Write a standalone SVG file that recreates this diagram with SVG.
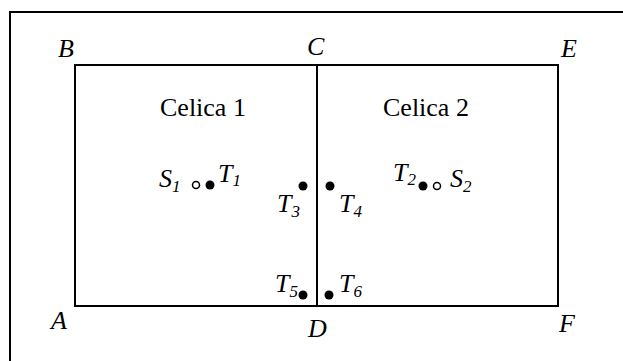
<svg xmlns="http://www.w3.org/2000/svg" width="623" height="361" viewBox="0 0 623 361">
<style>
.ln{fill:none;stroke:#000;stroke-width:2}
.lb{font-family:"Liberation Serif","Times New Roman",serif;font-size:26px;font-style:italic;fill:#000}
.tx{font-family:"Liberation Serif","Times New Roman",serif;font-size:26px;fill:#000}
.sb{font-size:17px}
.dot{fill:#000}
.oc{fill:#fff;stroke:#000;stroke-width:1.5}
</style>
<rect width="623" height="361" fill="#fff"/>
<g id="frame">
<rect x="10" y="12" width="640" height="380" class="ln" stroke-width="1.5"/>
</g>
<g id="cells">
<rect x="75" y="65" width="483" height="241" class="ln"/>
<line x1="317" y1="65" x2="317" y2="306" class="ln"/>
</g>
<g id="corners">
<text x="58" y="57" class="lb">B</text>
<text x="307" y="55" class="lb">C</text>
<text x="561" y="57" class="lb">E</text>
<text x="51" y="329" class="lb">A</text>
<text x="308" y="337" class="lb">D</text>
<text x="559" y="332" class="lb">F</text>
</g>
<g id="titles">
<text x="160" y="116" class="tx">Celica 1</text>
<text x="383" y="116" class="tx">Celica 2</text>
</g>
<g id="S1">
<text x="159" y="187" class="lb">S<tspan class="sb" dy="5">1</tspan></text>
<circle cx="196" cy="185" r="3.5" class="oc"/>
</g>
<g id="T1">
<circle cx="210" cy="185" r="4.5" class="dot"/>
<text x="218" y="182" class="lb">T<tspan class="sb" dy="4">1</tspan></text>
</g>
<g id="T3">
<text x="277" y="212" class="lb">T<tspan class="sb" dy="5">3</tspan></text>
<circle cx="303" cy="186" r="4.5" class="dot"/>
</g>
<g id="T4">
<circle cx="330" cy="186" r="4.5" class="dot"/>
<text x="339" y="212" class="lb">T<tspan class="sb" dy="5">4</tspan></text>
</g>
<g id="T2">
<text x="393" y="181" class="lb">T<tspan class="sb" dy="4">2</tspan></text>
<circle cx="423" cy="186" r="4.5" class="dot"/>
</g>
<g id="S2">
<circle cx="437" cy="186" r="3.5" class="oc"/>
<text x="450" y="187" class="lb">S<tspan class="sb" dy="5">2</tspan></text>
</g>
<g id="T5">
<text x="275" y="292" class="lb">T<tspan class="sb" dy="5">5</tspan></text>
<circle cx="303" cy="295" r="4.5" class="dot"/>
</g>
<g id="T6">
<circle cx="329" cy="295" r="4.5" class="dot"/>
<text x="339" y="292" class="lb">T<tspan class="sb" dy="5">6</tspan></text>
</g>
</svg>
